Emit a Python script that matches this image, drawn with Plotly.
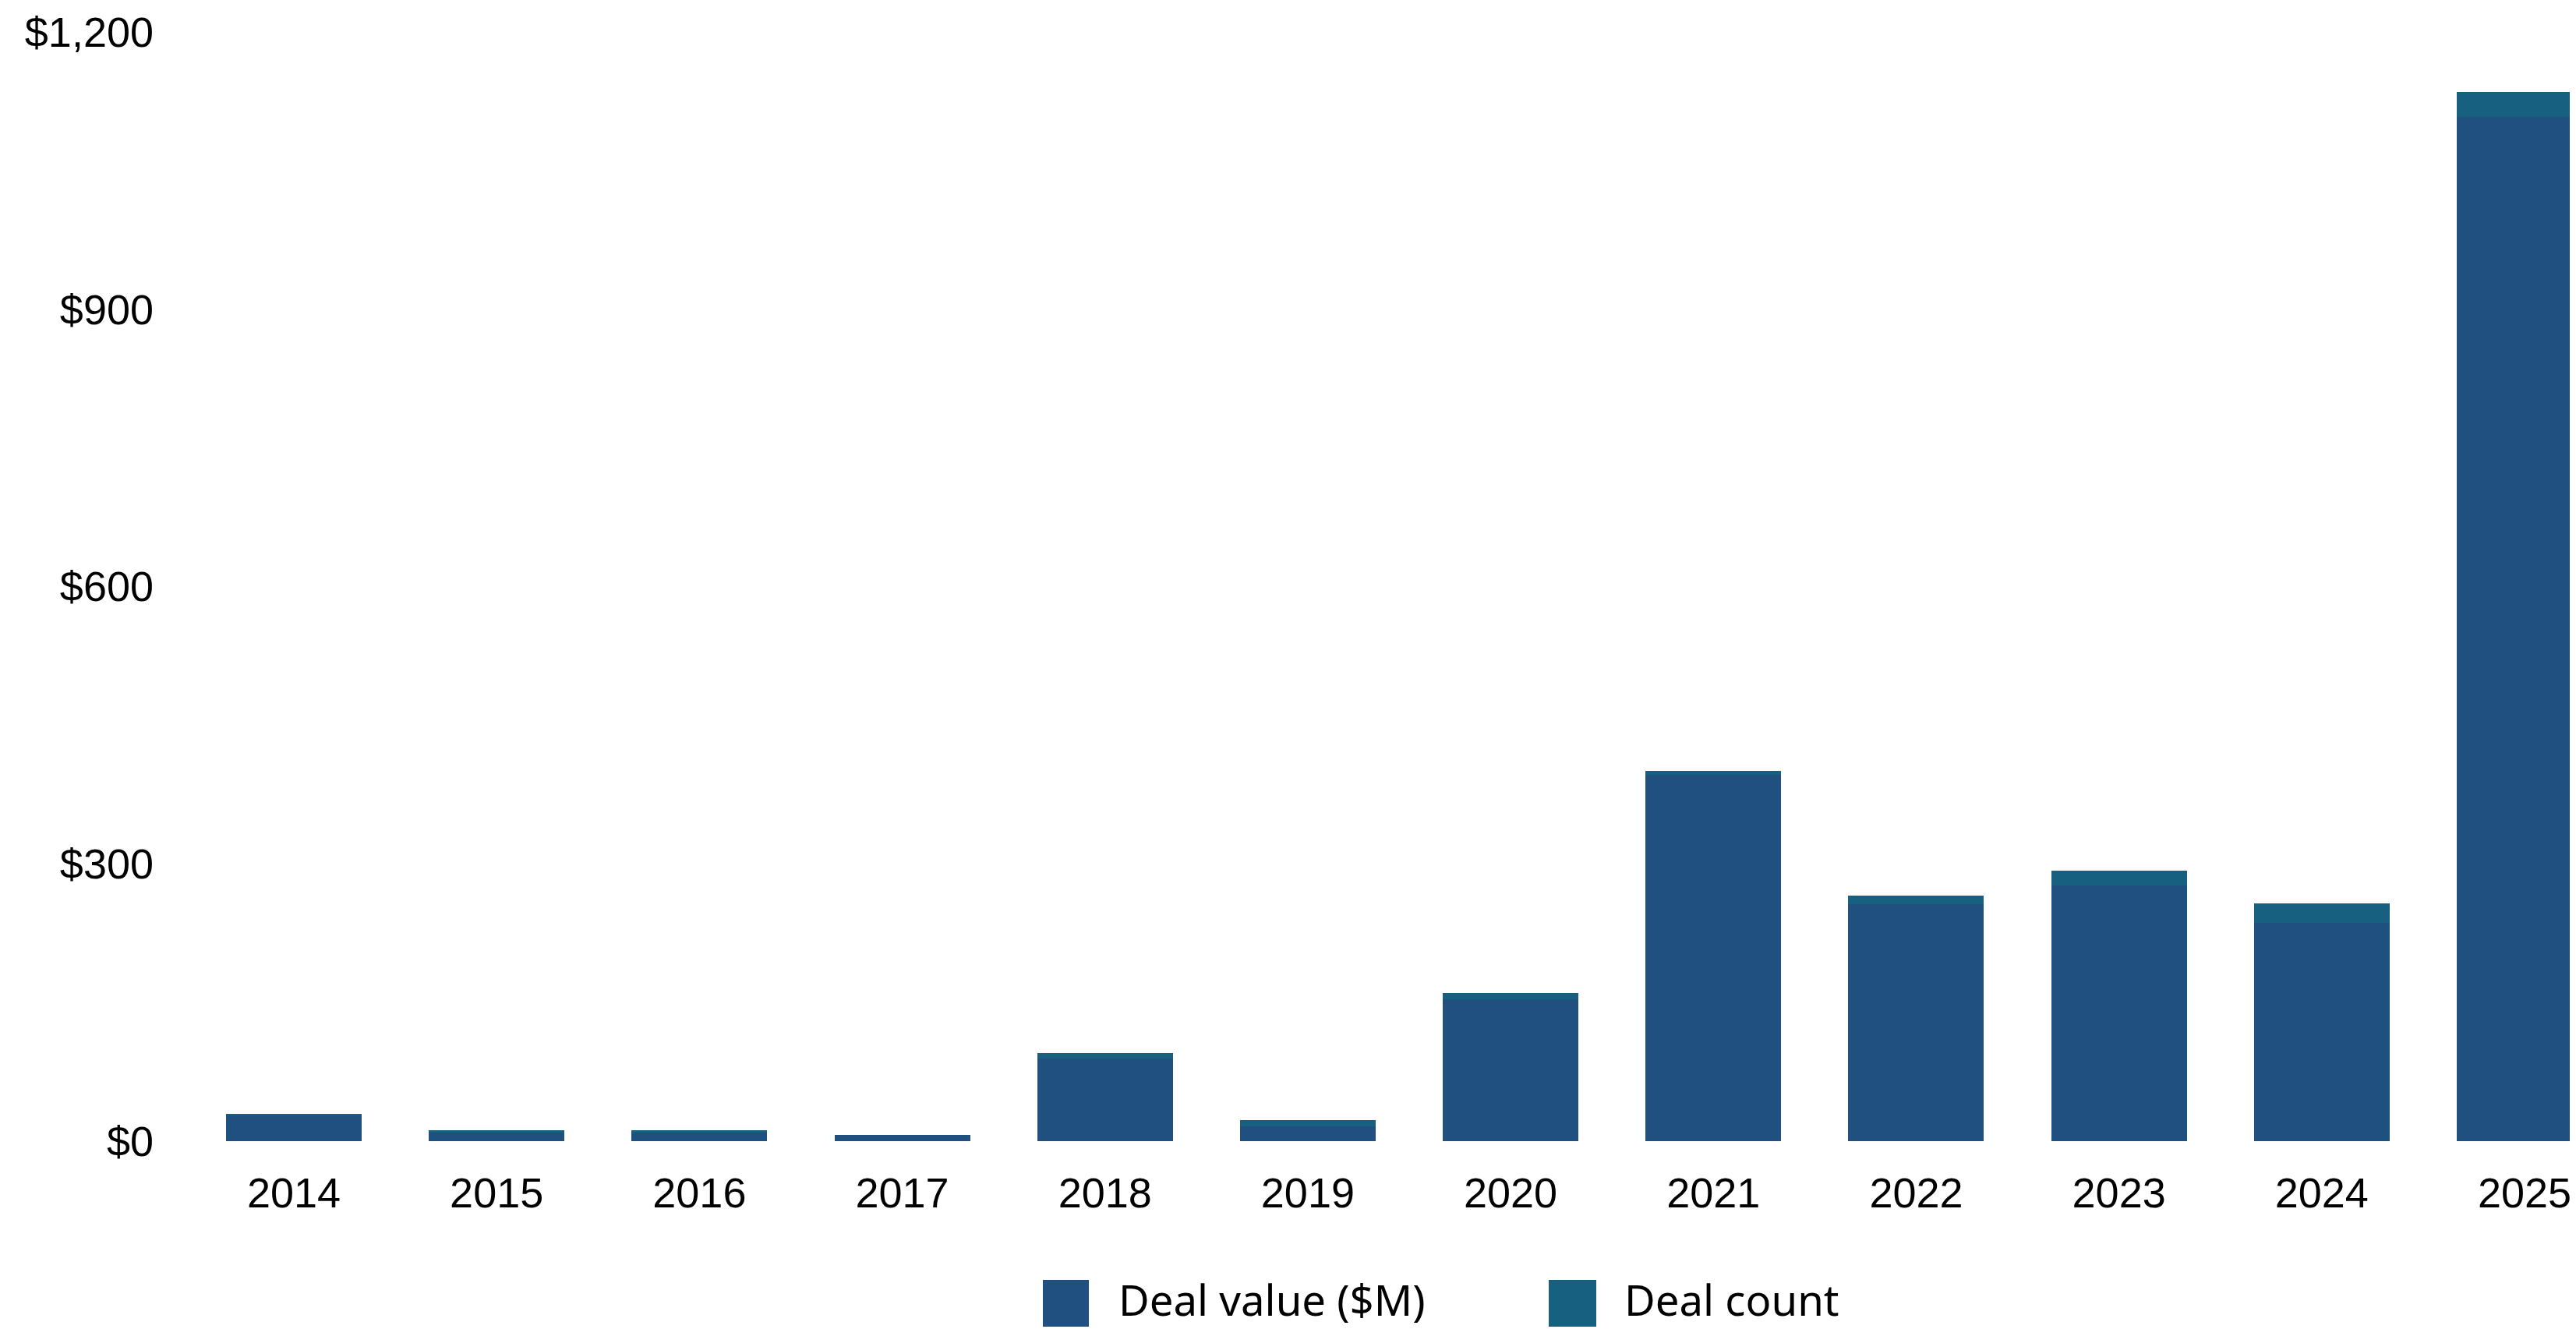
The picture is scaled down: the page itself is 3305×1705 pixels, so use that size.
import plotly.graph_objects as go

years = ["2014", "2015", "2016", "2017", "2018", "2019", "2020", "2021", "2022", "2023", "2024", "2025"]
deal_value = [28.3, 9.3, 9.3, 6.5, 89.7, 15.8, 153.4, 396.1, 256.2, 276.4, 236.0, 1108.0]
deal_count = [0.9, 2.2, 2.2, 0.0, 5.3, 6.7, 6.7, 4.2, 9.2, 16.0, 21.0, 27.0]
y_ticks = [0, 300, 600, 900, 1200]
y_tick_labels = ["$0", "$300", "$600", "$900", "$1,200"]
series_names = ["Deal value ($M)", "Deal count"]
colors = ["#1F5080", "#17607F"]

PAGE_OFF = 8  # default body margin of the html page
W, H = 3305 - PAGE_OFF, 1705 - PAGE_OFF
L = 205 - PAGE_OFF
T = 41 - PAGE_OFF
R = 0
B = H - (1464 - PAGE_OFF)
plot_w = W - L - R
plot_h = H - T - B

fig = go.Figure()
fig.add_trace(go.Bar(x=years, y=deal_value, name=series_names[0],
                     marker=dict(color=colors[0], line=dict(width=0)), width=0.669))
fig.add_trace(go.Bar(x=years, y=deal_count, name=series_names[1],
                     marker=dict(color=colors[1], line=dict(width=0)), width=0.669))

def px_x(p):
    # p in page pixels
    return (p - PAGE_OFF - L) / plot_w

def px_y(p):
    return (H - B - (p - PAGE_OFF)) / plot_h

# manual legend (large square swatches)
legend_items = [(1338, 1397, 1433), (1987, 2048, 2082)]
shapes = []
annotations = []
for (x0, x1, tx), name, col in zip(legend_items, series_names, colors):
    shapes.append(dict(type="rect", xref="paper", yref="paper",
                       x0=px_x(x0), x1=px_x(x1), y0=px_y(1702), y1=px_y(1642),
                       fillcolor=col, line=dict(width=0), layer="above"))
    annotations.append(dict(text=name, xref="paper", yref="paper",
                            x=px_x(tx), y=px_y(1667), xanchor="left", yanchor="middle",
                            showarrow=False,
                            font=dict(family="Noto Sans", size=54.5, color="#000000")))

fig.update_layout(
    template="none",
    barmode="stack",
    width=W, height=H,
    margin=dict(l=L, r=R, t=T, b=B, pad=0),
    paper_bgcolor="#FFFFFF",
    plot_bgcolor="#FFFFFF",
    showlegend=False,
    shapes=shapes,
    annotations=annotations,
    font=dict(family="Liberation Sans", size=54, color="#000000"),
)
fig.update_xaxes(
    type="category",
    range=[(205 - 377) / 260.2, 11 + (3305 - 3239) / 260.2],
    showgrid=False, zeroline=False, showline=False,
    ticks="outside", ticklen=19, tickcolor="rgba(0,0,0,0)",
    tickfont=dict(family="Liberation Sans", size=54, color="#000000"),
    automargin=False,
)
fig.update_yaxes(
    range=[0, 1200],
    tickvals=y_ticks, ticktext=y_tick_labels,
    showgrid=False, zeroline=False, showline=False,
    ticks="", ticklabelstandoff=7,
    tickfont=dict(family="Liberation Sans", size=54, color="#000000"),
    automargin=False,
)

fig.write_html("out.html")
